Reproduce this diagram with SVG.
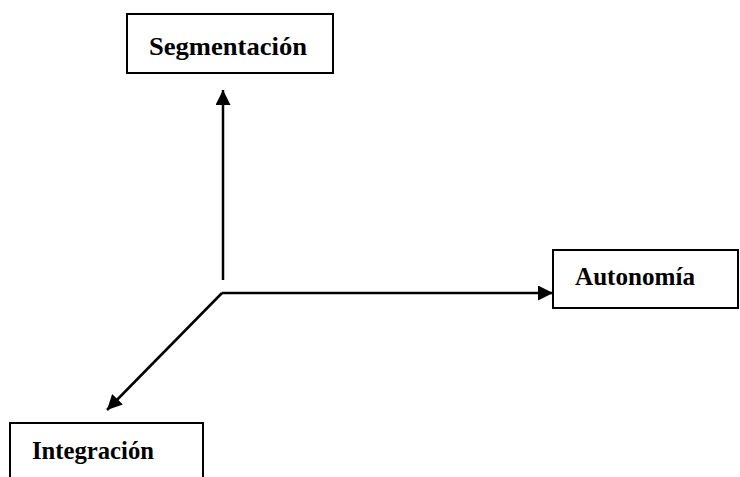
<svg xmlns="http://www.w3.org/2000/svg" width="740" height="477" viewBox="0 0 740 477">
<style>
.box{fill:#fff;stroke:#000;stroke-width:2}
.lbl{font-family:"Liberation Serif","Times New Roman",serif;font-weight:bold;font-size:26px;fill:#000}
.conn{stroke:#000;stroke-width:2.5;fill:none}
</style>
<defs>
<marker id="ah" viewBox="0 0 10 10" refX="10" refY="5" markerWidth="6" markerHeight="6" markerUnits="strokeWidth" orient="auto">
<path d="M0,0 L10,5 L0,10 z" fill="#000"/>
</marker>
</defs>
<rect width="740" height="477" fill="#fff"/>
<g id="segmentacion">
<rect class="box" x="127" y="14" width="206" height="59"/>
<text class="lbl" x="149" y="55" textLength="158" lengthAdjust="spacingAndGlyphs">Segmentación</text>
</g>
<g id="autonomia">
<rect class="box" x="553" y="250" width="185" height="58"/>
<text class="lbl" x="575" y="285" textLength="120" lengthAdjust="spacingAndGlyphs">Autonomía</text>
</g>
<g id="integracion">
<rect class="box" x="10" y="423" width="193" height="60"/>
<text class="lbl" x="32" y="459" textLength="122" lengthAdjust="spacingAndGlyphs">Integración</text>
</g>
<g id="connectors">
<line class="conn" x1="223" y1="280" x2="223" y2="90" marker-end="url(#ah)"/>
<path class="conn" d="M222,293 L553,293" marker-end="url(#ah)"/>
<line class="conn" x1="222" y1="293" x2="107" y2="410" marker-end="url(#ah)"/>
</g>
</svg>
